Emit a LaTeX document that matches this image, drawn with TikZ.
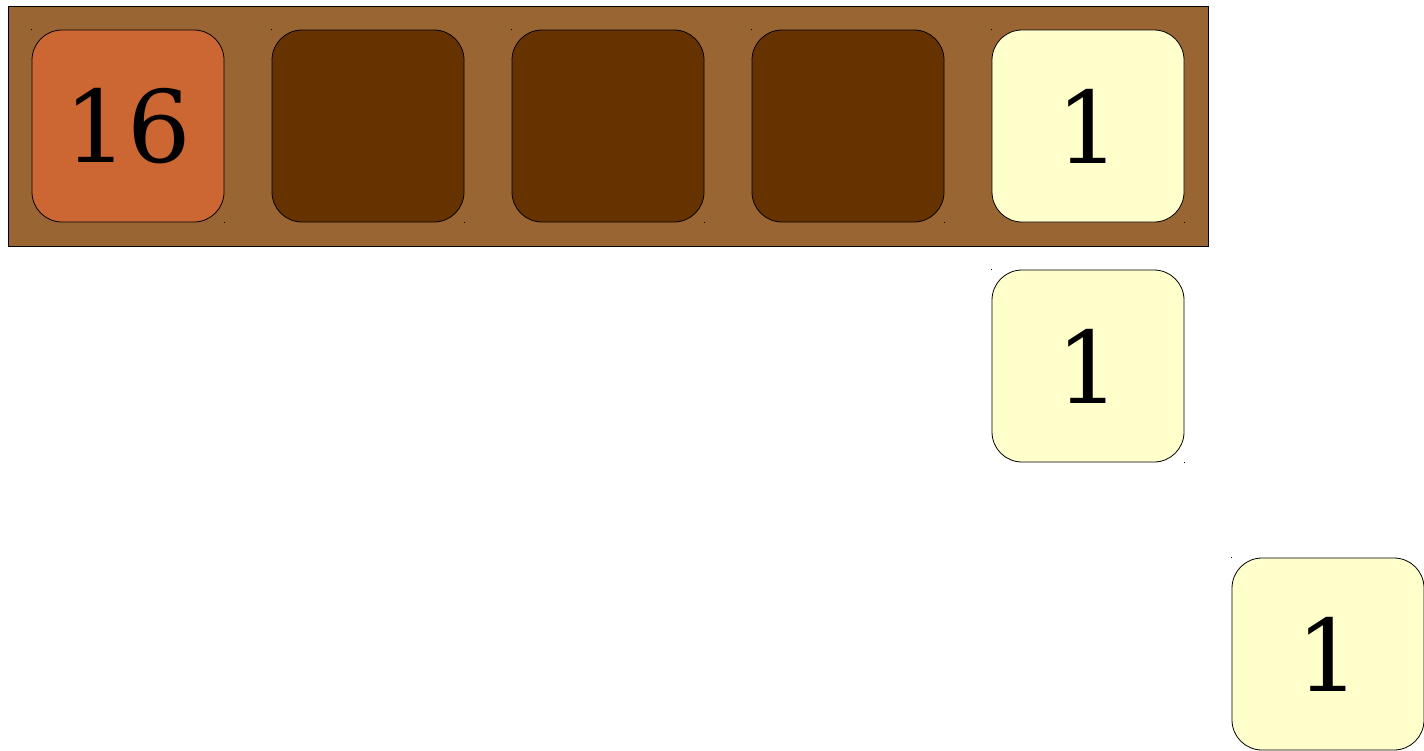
\documentclass[tikz,border=0pt]{standalone}
\usepackage{fontspec}
\setmainfont{DejaVu Serif}
\definecolor{boardbg}{HTML}{996633}
\definecolor{tileorange}{HTML}{CC6633}
\definecolor{tiledark}{HTML}{663300}
\definecolor{tilepale}{HTML}{FFFFCC}
\tikzset{
  tile/.style={draw=black, line width=0.8pt, rounded corners=30pt, minimum width=192pt, minimum height=192pt, inner sep=0pt, font=\fontsize{100}{100}\selectfont},
  board/.style={draw=black, line width=0.8pt, fill=boardbg},
  speck/.style={fill=black, inner sep=0pt, minimum size=1pt}
}
\begin{document}
\begin{tikzpicture}[x=1pt,y=-1pt]
\useasboundingbox (0,0) rectangle (1424,750);
\draw[board] (8,6) rectangle (1208,246);
\node[tile, fill=tileorange] (t1) at (128,126) {16};
\node[tile, fill=tiledark] (t2) at (368,126) {};
\node[tile, fill=tiledark] (t3) at (608,126) {};
\node[tile, fill=tiledark] (t4) at (848,126) {};
\node[tile, fill=tilepale] (t5) at (1088,126) {1};
\node[tile, fill=tilepale] (t6) at (1088,366) {1};
\node[tile, fill=tilepale] (t7) at (1328,654) {1};
\foreach \n in {t1,t2,t3,t4,t5,t6,t7}{
  \node[speck] at (\n.north west) {};
  \node[speck] at (\n.south east) {};
}
\end{tikzpicture}
\end{document}
